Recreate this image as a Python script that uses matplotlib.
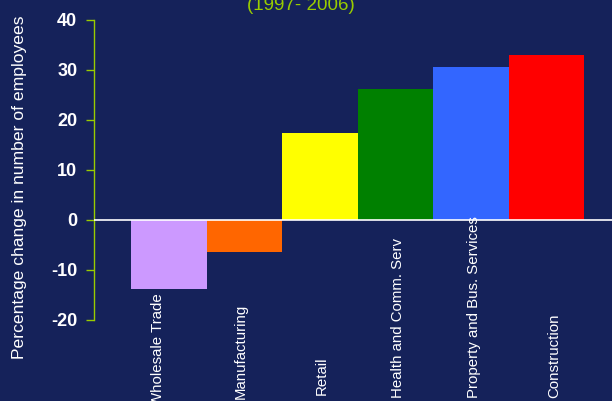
import matplotlib
matplotlib.use("Agg")
import matplotlib.pyplot as plt
import numpy as np

plt.rcParams['font.family'] = ['Liberation Sans', 'DejaVu Sans']

# data
industries = ["Wholesale Trade", "Manufacturing", "Retail", "Health and Comm. Serv",
              "Property and Bus. Services", "Construction"]
pct_change = [-13.8, -6.4, 17.4, 26.2, 30.6, 33.0]
bar_colors = ["#cc99ff", "#ff6600", "#ffff00", "#008000", "#3366ff", "#ff0000"]
yticks = [-20, -10, 0, 10, 20, 30, 40]

bg = "#15225a"
accent = "#99cc00"

fig = plt.figure(figsize=(6.12, 4.01), dpi=100, facecolor=bg)
ax = fig.add_axes([94 / 612, 1 - 320 / 401, 1 - 94 / 612, 300 / 401])
ax.set_facecolor(bg)

x = np.arange(len(industries))
ax.bar(x, pct_change, width=1.0, color=bar_colors, zorder=2)
ax.axhline(0, color="white", lw=1.2, zorder=3)

ax.set_ylim(-20, 40)
ax.set_xlim(-0.99, 5.87)
ax.set_yticks(yticks)
ax.set_yticklabels([str(t) for t in yticks], color="white", fontsize=13, fontweight="bold")
ax.tick_params(axis="y", colors=accent, length=6, width=1, pad=6, labelcolor="white")
ax.set_xticks([])

for side in ["top", "right", "bottom"]:
    ax.spines[side].set_visible(False)
ax.spines["left"].set_color(accent)
ax.spines["left"].set_linewidth(1)

# category labels, rotated and anchored near the bottom of the figure
offsets = [-0.14, -0.05, 0.03, 0.03, 0.04, 0.1]
bottoms = [-5, 2, 6, 3, 3, 3]  # pixels above the figure bottom
trans = matplotlib.transforms.blended_transform_factory(ax.transData, fig.transFigure)
for i, name in enumerate(industries):
    ax.text(i + offsets[i], bottoms[i] / 401, name, rotation=90, ha="center", va="bottom",
            color="white", fontsize=10.8, transform=trans, clip_on=False)

fig.text(20 / 612, 1 - 187 / 401, "Percentage change in number of employees", rotation=90,
         ha="center", va="center", color="white", fontsize=12.6)

fig.text(301 / 612, 1 - 14 / 401, "(1997- 2006)", ha="center", va="bottom",
         color=accent, fontsize=13.5)

fig.savefig("out.png", dpi=100, facecolor=bg)
